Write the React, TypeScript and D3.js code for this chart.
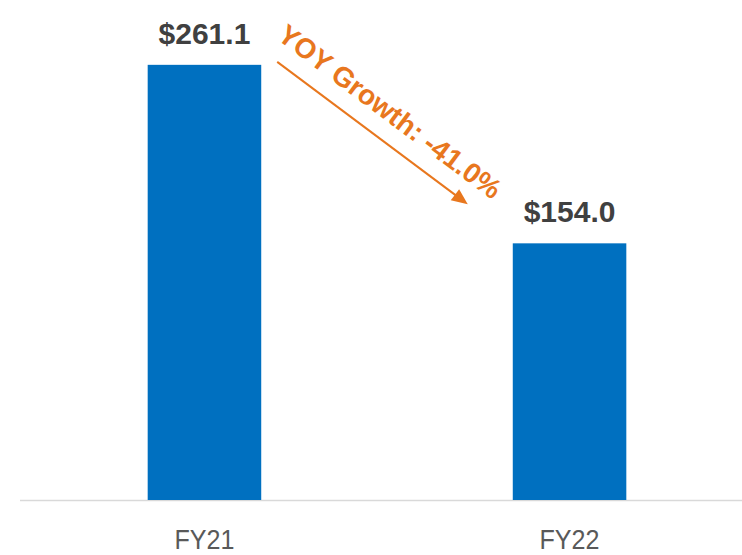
import { useEffect, useRef } from "react";
import { select, scaleBand, scaleLinear } from "d3";

const categories = ["FY21", "FY22"];
const values = [261.1, 154.0];
const valueLabels = ["$261.1", "$154.0"];
const growthLabel = "YOY Growth: -41.0%";

const W = 742;
const H = 555;

const App = () => {
  const svgRef = useRef<SVGSVGElement | null>(null);

  useEffect(() => {
    const svg = select(svgRef.current);
    svg.selectAll("*").remove();

    const xScale = scaleBand<string>()
      .domain(categories)
      .range([21, 753])
      .paddingInner(0.689)
      .paddingOuter(0.347);

    const yScale = scaleLinear().domain([0, 300]).range([500, 0]);

    const data = categories.map((c, i) => ({ name: c, value: values[i], label: valueLabels[i] }));

    // baseline
    svg
      .append("line")
      .attr("x1", 20)
      .attr("x2", W)
      .attr("y1", yScale(0) + 0.5)
      .attr("y2", yScale(0) + 0.5)
      .attr("stroke", "#d9d9d9")
      .attr("stroke-width", 1.5);

    // bars
    svg
      .selectAll(".bar")
      .data(data)
      .join("rect")
      .attr("class", "bar")
      .attr("x", d => xScale(d.name)!)
      .attr("width", xScale.bandwidth())
      .attr("y", d => yScale(d.value))
      .attr("height", d => yScale(0) - yScale(d.value))
      .attr("fill", "#0070c0");

    // value labels
    svg
      .selectAll(".label")
      .data(data)
      .join("text")
      .attr("class", "label")
      .attr("x", d => xScale(d.name)! + xScale.bandwidth() / 2)
      .attr("y", d => yScale(d.value) - 21)
      .attr("text-anchor", "middle")
      .attr("font-family", "Liberation Sans, Arial, sans-serif")
      .attr("font-weight", "bold")
      .attr("font-size", 30)
      .attr("fill", "#404040")
      .text(d => d.label);

    // category labels (narrow look)
    svg
      .selectAll(".cat")
      .data(data)
      .join("text")
      .attr("class", "cat")
      .attr("x", d => xScale(d.name)! + xScale.bandwidth() / 2)
      .attr("y", 549)
      .attr("text-anchor", "middle")
      .attr("font-family", "Liberation Sans, Arial, sans-serif")
      .attr("font-size", 27)
      .attr("textLength", 60)
      .attr("lengthAdjust", "spacingAndGlyphs")
      .attr("fill", "#595959")
      .text(d => d.name);

    // growth arrow
    const orange = "#e8771e";
    const x0 = xScale(categories[0])! + xScale.bandwidth() + 16;
    const y0 = yScale(values[0]) - 3;
    const x1 = xScale(categories[1])! - 45;
    const y1 = yScale(values[1]) - 39;
    const ang = Math.atan2(y1 - y0, x1 - x0);
    const ux = Math.cos(ang), uy = Math.sin(ang);
    const head = 16, hw = 7;

    svg
      .append("line")
      .attr("x1", x0)
      .attr("y1", y0)
      .attr("x2", x1 - ux * head * 0.8)
      .attr("y2", y1 - uy * head * 0.8)
      .attr("stroke", orange)
      .attr("stroke-width", 2);

    const bx = x1 - ux * head, by = y1 - uy * head;
    svg
      .append("path")
      .attr("d", `M${x1},${y1} L${bx - uy * hw},${by + ux * hw} L${bx + uy * hw},${by - ux * hw} Z`)
      .attr("fill", orange);

    // growth label along arrow
    const along = -15, perp = 18;
    const tx = x0 + ux * along + uy * perp;
    const ty = y0 + uy * along - ux * perp;
    svg
      .append("text")
      .attr("transform", `translate(${tx},${ty}) rotate(${(ang * 180) / Math.PI})`)
      .attr("font-family", "Liberation Sans, Arial, sans-serif")
      .attr("font-weight", "bold")
      .attr("font-size", 28)
      .attr("fill", orange)
      .text(growthLabel);
  }, []);

  return (
    <svg
      ref={svgRef}
      width={W}
      height={H}
      style={{ position: "absolute", left: 0, top: 0, background: "#ffffff" }}
    />
  );
};

export default App;
